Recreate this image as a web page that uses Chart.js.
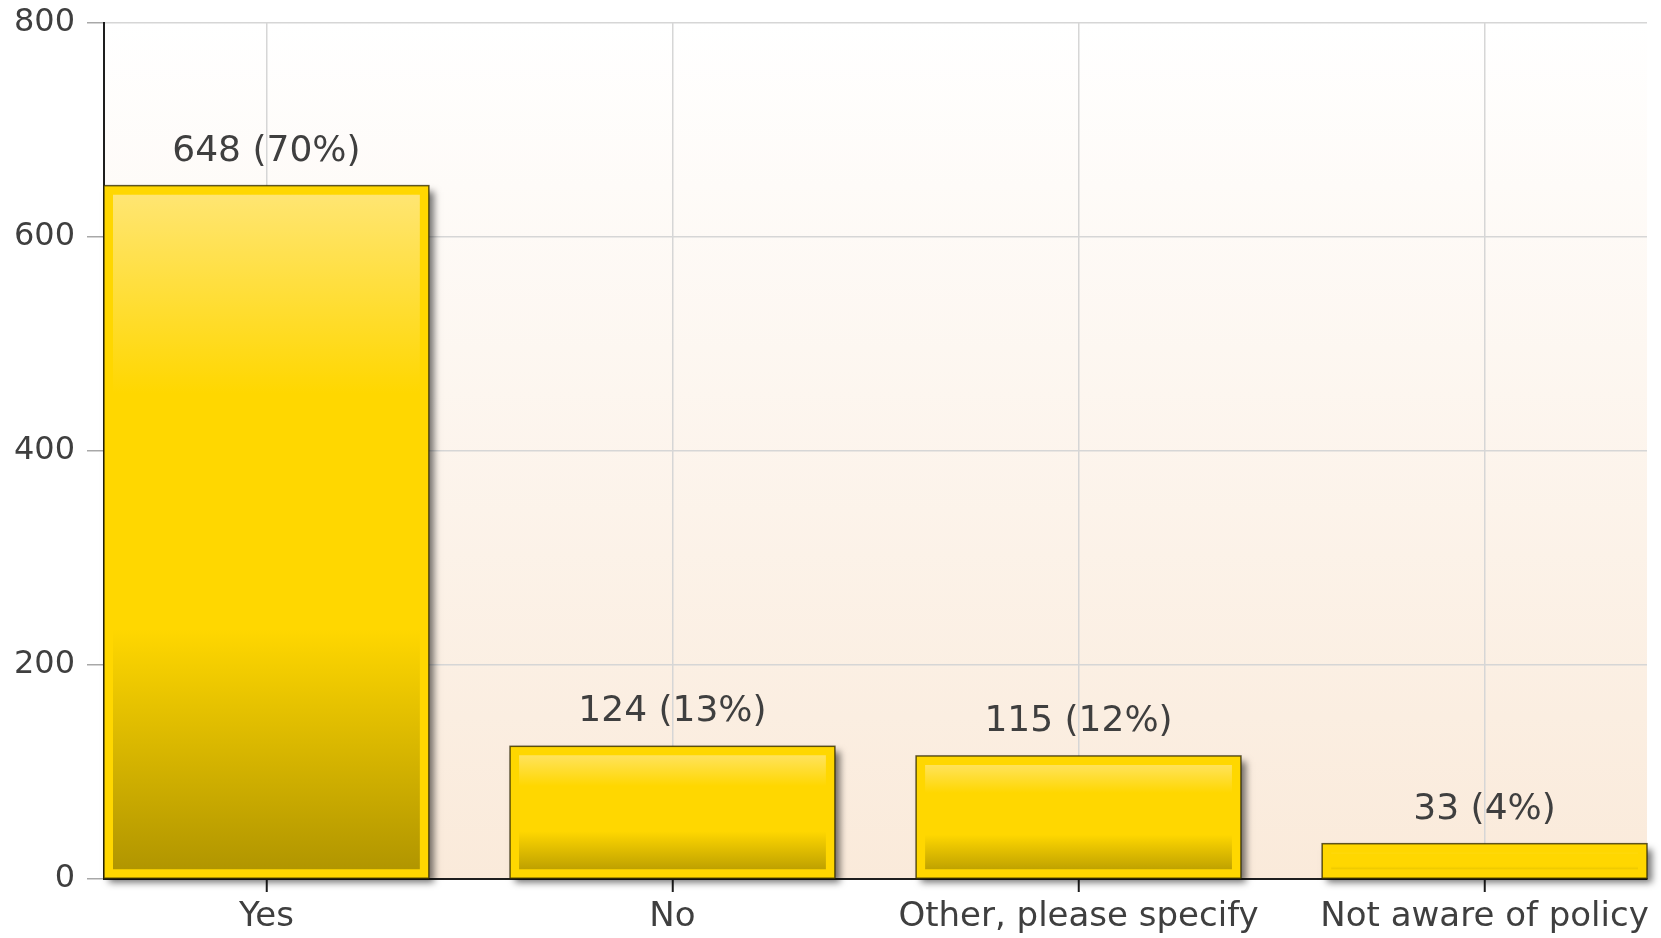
<!DOCTYPE html>
<html>
<head>
<meta charset="utf-8">
<script src="https://cdn.jsdelivr.net/npm/chart.js@4/dist/chart.umd.min.js"></script>
<style>
  html, body { margin: 0; padding: 0; background: #ffffff; }
  #wrap { width: 1661px; height: 938px; position: relative; }
</style>
</head>
<body>
<div id="wrap"><canvas id="c"></canvas></div>
<script>
const categories = ["Yes", "No", "Other, please specify", "Not aware of policy"];
const counts = [648, 124, 115, 33];
const percents = [70, 13, 12, 4];
const yTicks = [0, 200, 400, 600, 800];

const FONT = "'DejaVu Sans', sans-serif";
const TEXT = "#3f3f3f";
const GOLD = "#FFD700";

function barGradient(ctx) {
  const chart = ctx.chart;
  if (ctx.type !== 'data' || !chart.scales || !chart.scales.y || !ctx.parsed) return GOLD;
  const y = chart.scales.y;
  const top = y.getPixelForValue(ctx.parsed.y);
  const bottom = y.getPixelForValue(0);
  if (!isFinite(top) || !isFinite(bottom) || top === bottom) return GOLD;
  const g = chart.ctx.createLinearGradient(0, top, 0, bottom);
  g.addColorStop(0, "#FFE677");
  g.addColorStop(0.30, "#FFD700");
  g.addColorStop(0.64, "#FFD700");
  g.addColorStop(1, "#AE9300");
  return g;
}

const plotBackground = {
  id: 'plotBackground',
  beforeDraw(chart) {
    const {ctx, chartArea: a} = chart;
    const g = ctx.createLinearGradient(0, a.top, 0, a.bottom);
    g.addColorStop(0, "#FFFFFF");
    g.addColorStop(1, "#FAEADA");
    ctx.save();
    ctx.fillStyle = g;
    ctx.fillRect(a.left, a.top, a.right - a.left, a.bottom - a.top);
    ctx.restore();
  }
};

const barDecor = {
  id: 'barDecor',
  beforeDatasetsDraw(chart) {
    const ctx = chart.ctx;
    const meta = chart.getDatasetMeta(0);
    meta.data.forEach(el => {
      const p = el.getProps(['x', 'y', 'base', 'width'], true);
      ctx.save();
      ctx.shadowColor = "rgba(0,0,0,0.55)";
      ctx.shadowBlur = 7;
      ctx.shadowOffsetX = 5;
      ctx.shadowOffsetY = 5;
      ctx.fillStyle = GOLD;
      ctx.fillRect(p.x - p.width / 2, p.y, p.width, p.base - p.y);
      ctx.restore();
    });
  },
  afterDatasetsDraw(chart) {
    const ctx = chart.ctx;
    const meta = chart.getDatasetMeta(0);
    ctx.save();
    meta.data.forEach((el, i) => {
      const p = el.getProps(['x', 'y', 'base', 'width'], true);
      ctx.strokeStyle = "rgba(40,35,0,0.75)";
      ctx.lineWidth = 1.5;
      ctx.strokeRect(p.x - p.width / 2, p.y, p.width, p.base - p.y);
      ctx.fillStyle = TEXT;
      ctx.font = "36px " + FONT;
      ctx.textAlign = "center";
      ctx.textBaseline = "alphabetic";
      ctx.fillText(counts[i] + " (" + percents[i] + "%)", p.x, p.y - 25);
    });
    ctx.restore();
  }
};

new Chart(document.getElementById('c'), {
  type: 'bar',
  data: {
    datasets: [{
      data: categories.map((c, i) => ({x: i, y: counts[i]})),
      backgroundColor: barGradient,
      borderColor: GOLD,
      borderWidth: 9,
      borderSkipped: false,
      categoryPercentage: 0.8,
      barPercentage: 1.0,
      clip: false
    }]
  },
  options: {
    responsive: true,
    maintainAspectRatio: false,
    animation: false,
    layout: { padding: { top: 23, right: 14, bottom: 0, left: 0 } },
    plugins: {
      legend: { display: false },
      tooltip: { enabled: false },
      title: { display: false }
    },
    scales: {
      x: {
        type: 'linear',
        offset: false,
        min: -0.4,
        max: 3.4,
        afterBuildTicks(scale) {
          scale.ticks = categories.map((c, i) => ({value: i}));
        },
        afterFit(scale) {
          scale.height = 59;
          scale.paddingLeft = 0;
          scale.paddingRight = 0;
        },
        ticks: {
          autoSkip: false,
          maxRotation: 0,
          padding: 5,
          color: TEXT,
          font: { family: FONT, size: 34 },
          callback: (v) => categories[v]
        },
        grid: {
          offset: false,
          color: "#D6D6D6",
          lineWidth: 1.5,
          tickColor: "#1e1e1e",
          tickLength: 13,
          tickWidth: 2
        },
        border: { color: "#1e1e1e", width: 2 }
      },
      y: {
        min: 0,
        max: 800,
        afterBuildTicks(scale) {
          scale.ticks = yTicks.map(v => ({value: v}));
        },
        afterFit(scale) {
          scale.width = 104;
          scale.paddingTop = 0;
          scale.paddingBottom = 0;
        },
        ticks: {
          padding: 12,
          color: TEXT,
          font: { family: FONT, size: 32 }
        },
        grid: {
          color: "#D6D6D6",
          lineWidth: 1.5,
          tickColor: "#A8A8A8",
          tickLength: 17
        },
        border: { color: "#1e1e1e", width: 2 }
      }
    }
  },
  plugins: [plotBackground, barDecor]
});
</script>
</body>
</html>
